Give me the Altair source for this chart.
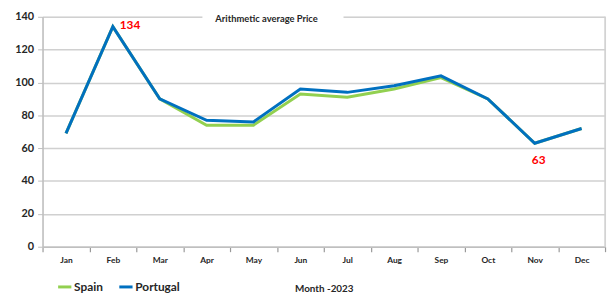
import altair as alt
import pandas as pd

months = ["Jan", "Feb", "Mar", "Apr", "May", "Jun", "Jul", "Aug", "Sep", "Oct", "Nov", "Dec"]
spain = [69, 134, 90, 74, 74, 93, 91, 96, 103, 90, 63, 72]
portugal = [69, 134, 90, 77, 76, 96, 94, 98, 104, 90, 63, 72]
series = ["Spain", "Portugal"]
colors = ["#92D050", "#0070C0"]

label_months = ["Feb", "Nov"]
label_values = [134, 63]
label_text = ["134", "63"]

title_text = "Arithmetic average Price"
x_title = "Month -2023"

rows = []
for s, vals in zip(series, [spain, portugal]):
    for m, v in zip(months, vals):
        rows.append({"Month": m, "Price": v, "Country": s})
df = pd.DataFrame(rows)
ann = pd.DataFrame({"Month": label_months, "Price": label_values, "Label": label_text})

FONT = "Lato"
x_scale = alt.Scale(type="band", domain=months, paddingInner=0, paddingOuter=0)
y_scale = alt.Scale(domain=[0, 140], nice=False)

x_enc = alt.X("Month:N", sort=months, bandPosition=0.5, scale=x_scale,
              axis=alt.Axis(title=x_title, labelAngle=0, tickBand="extent", grid=False, ticks=True,
                            labelFont=FONT, labelFontSize=8.5, labelFontWeight="bold", labelColor="#262626",
                            labelPadding=4, tickSize=5, tickColor="#999999", domainColor="#bfbfbf",
                            domainWidth=1.5, tickWidth=1.2,
                            titleFont=FONT, titleFontSize=10, titleFontWeight="bold", titleColor="#262626",
                            titlePadding=20))
y_enc = alt.Y("Price:Q", scale=y_scale,
              axis=alt.Axis(title=None, values=[0, 20, 40, 60, 80, 100, 120, 140], labelOverlap=False,
                            tickCount=8,
                            labelFont=FONT, labelFontSize=11, labelFontWeight="bold", labelColor="#262626",
                            labelPadding=4, tickSize=5, tickColor="#bfbfbf", domainColor="#bfbfbf",
                            domainWidth=1.5, gridColor="#d0d0d0", gridWidth=1.5))

lines = alt.Chart(df).mark_line(strokeWidth=3).encode(
    x=x_enc,
    y=y_enc,
    color=alt.Color("Country:N", sort=series,
                    scale=alt.Scale(domain=series, range=colors),
                    legend=alt.Legend(title=None, orient="none", legendX=14, legendY=265,
                                      direction="horizontal", symbolType="stroke",
                                      symbolStrokeWidth=3, symbolSize=180, columnPadding=9,
                                      labelFont=FONT, labelFontSize=12, labelFontWeight="bold",
                                      labelColor="#262626", labelOffset=1)),
    order=alt.Order("Country:N", sort="descending"),
)

lbl_feb = alt.Chart(ann[ann.Month == "Feb"]).mark_text(
    align="left", baseline="middle", dx=7, dy=-2, color="#FF0000", font=FONT,
    fontSize=12, fontWeight="bold").encode(x=x_enc, y=y_enc, text="Label:N")
lbl_nov = alt.Chart(ann[ann.Month == "Nov"]).mark_text(
    align="center", baseline="middle", dx=4, dy=17, color="#FF0000", font=FONT,
    fontSize=12, fontWeight="bold").encode(x=x_enc, y=y_enc, text="Label:N")

box = alt.Chart(pd.DataFrame({"t": [title_text]})).mark_rect(color="white").encode(
    x=alt.value(162), x2=alt.value(305), y=alt.value(-6), y2=alt.value(6))
title = alt.Chart(pd.DataFrame({"t": [title_text]})).mark_text(
    font=FONT, fontSize=9.5, fontWeight="bold", color="#262626", baseline="middle").encode(
    x=alt.value(227), y=alt.value(2), text="t:N")
right_border = alt.Chart(pd.DataFrame({"t": [0]})).mark_rule(color="#d0d0d0", strokeWidth=1.5).encode(
    x=alt.value(570), y=alt.value(0), y2=alt.value(233))

chart = alt.layer(lines, lbl_feb, lbl_nov, box, title, right_border).properties(
    width=570, height=233,
    autosize=alt.AutoSizeParams(type="none"),
    padding={"left": 35, "top": 7, "right": 3, "bottom": 47},
).configure_view(stroke=None).configure(background="white")

chart.save("out.html", embed_options={"renderer": "svg", "actions": False})
